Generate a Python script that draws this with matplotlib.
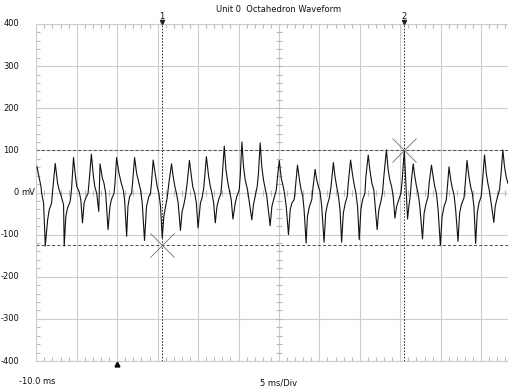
import matplotlib
matplotlib.use('Agg')
import matplotlib.pyplot as plt
import matplotlib.transforms as mtransforms
from matplotlib.ticker import MultipleLocator
import numpy as np

# ---- data ----
time_ms = [
    -9.92, -9.42, -9.34, -9.10, -8.89, -8.60, -8.40, -8.11, -7.99, -7.66,
    -7.37, -7.17, -6.96, -6.63, -6.55, -6.35, -6.14, -5.81, -5.65, -5.40,
    -5.16, -4.99, -4.70, -4.50, -4.29, -4.09, -3.88, -3.60, -3.47, -3.19,
    -2.94, -2.77, -2.53, -2.28, -2.12, -1.83, -1.63, -1.42, -1.13, -0.89,
    -0.72, -0.39, -0.27, -0.07, 0.22, 0.51, 0.75, 0.92, 1.17, 1.33,
    1.54, 1.78, 1.90, 2.15, 2.40, 2.69, 2.89, 3.10, 3.38, 3.63,
    3.92, 4.12, 4.24, 4.45,
    4.75, 4.95, 5.16, 5.36, 5.57, 5.77, 5.98, 6.18, 6.39, 6.72,
    6.92, 7.13, 7.33, 7.54, 7.82, 8.03, 8.24, 8.44, 8.65, 8.93,
    9.18, 9.34, 9.59, 9.79, 10.00, 10.29, 10.49, 10.70, 11.03, 11.31,
    11.52, 11.72, 11.93, 12.13, 12.34, 12.54, 12.83, 12.96, 13.24, 13.45,
    13.69, 13.90, 14.10, 14.31, 14.60, 14.80, 15.09, 15.21, 15.42, 15.62,
    15.83, 16.12, 16.32, 16.65, 16.85, 17.06, 17.31, 17.47, 17.68, 17.88,
    18.09, 18.29, 18.50, 18.91,
    19.13, 19.34, 19.67, 19.83, 20.04, 20.28, 20.49, 20.69, 20.90, 21.18,
    21.39, 21.60, 21.88, 22.01, 22.29, 22.54, 22.74, 22.95, 23.11, 23.36,
    23.52, 23.77, 24.06, 24.18, 24.47, 24.67, 24.88, 25.08, 25.29, 25.58,
    25.78, 25.99, 26.23, 26.44, 26.73, 26.93, 27.14, 27.34, 27.55, 27.75,
    27.96, 28.20, 28.45, 28.57, 28.86, 29.10, 29.31, 29.52, 29.72, 29.93,
    30.13, 30.34, 30.63, 30.75, 31.04, 31.24, 31.49, 31.73, 31.90, 32.14,
    32.35, 32.56, 32.80, 32.97, 33.29, 33.50, 33.71,
    33.93, 34.13, 34.34, 34.55, 34.75, 35.08, 35.24, 35.50, 35.90, 36.06,
    36.23, 36.39, 36.60, 36.80, 37.01, 37.21, 37.42, 37.75, 37.95, 38.16,
    38.44, 38.57, 38.86, 39.06, 39.27, 39.47, 39.68, 39.96, 40.17, 40.42,
    40.70, 40.83, 41.03, 41.24, 41.44, 41.65, 41.85, 42.14, 42.34, 42.55,
    42.88, 43.04, 43.25, 43.49, 43.70, 43.91, 44.11, 44.32, 44.52, 44.73,
    45.01, 45.18, 45.42, 45.63, 45.83, 46.04, 46.24, 46.57, 46.74, 46.98,
    47.27, 47.47, 47.68, 47.89, 48.09, 48.30,
]
volt_mv = [
    61, 14, -2, -25, -127, -65, -41, -25, 2, 69,
    22, 6, -6, -29, -127, -57, -37, -21, 6, 83,
    38, 14, 2, -17, -72, -25, -13, -2, 26, 91,
    38, 14, -2, -45, 68, 34, 22, -2, -88, -33,
    -17, -2, 22, 83, 46, 22, 6, -17, -104, -33,
    -9, -2, 22, 83, 46, 22, 6, -25, -114, -33,
    -9, -2, 22, 77,
    38, 14, -2, -33, -108, -57, -33, -13, 22, 68,
    38, 14, -2, -25, -90, -45, -29, -9, 22, 76,
    38, 14, -2, -25, -84, -25, -13, 10, 85, 38,
    14, -2, -25, -72, -33, -17, -2, 30, 110, 54,
    22, 2, -17, -63, -25, -9, 6, 38, 120, 61,
    30, 6, -21, -65, -29, -9, 14, 46, 118, 61,
    30, 10, -9, -79,
    -33, -17, 6, 38, 76, 34, 18, -2, -33, -100,
    -41, -25, -17, 6, 65, 30, 6, -9, -41, -120,
    -57, -33, -17, 6, 55, 30, 14, 2, -33, -118,
    -49, -29, -13, 14, 71, 38, 14, -6, -41, -118,
    -49, -25, -9, 22, 77, 42, 18, -2, -33, -112,
    -41, -17, -2, 38, 89, 54, 22, 6, -33, -88,
    -41, -25, -2, 38, 101, 54, 30,
    14, -9, -61, -33, -21, -2, 30, 100, -63, -33,
    -9, 30, 68, 38, 14, -2, -33, -110, -49, -29,
    -9, 22, 65, 38, 14, -2, -41, -126, -57, -33,
    -17, 14, 61, 30, 10, -6, -41, -116, -49, -29,
    -13, 22, 76, 38, 14, -2, -33, -121, -49, -25,
    -9, 30, 89, 46, 22, 2, -25, -71, -33, -13,
    6, 46, 101, 61, 38, 22,
]

cursor_times = [5.5, 35.5]
cursor_levels = [-125, 100]
cursor_labels = ['1', '2']
trigger_time = 0.0

y_ticks = [400, 300, 200, 100, 0, -100, -200, -300, -400]
y_tick_labels = ['400', '300', '200', '100', '0', '-100', '-200', '-300', '-400']
y_unit = 'mV'
x_start = -10.0
ms_per_div = 5
n_div = 12
title = 'Unit 0  Octahedron Waveform'
x_start_label = '-10.0 ms'
x_scale_label = '5 ms/Div'

# ---- figure ----
W, H = 508, 390
fig = plt.figure(figsize=(W / 100, H / 100), dpi=100)
fig.patch.set_facecolor('white')
left_px, top_px, bottom_px, div_px = 36.3, 24.0, 361.0, 40.44
ax = fig.add_axes([left_px / W, (H - bottom_px) / H,
                   n_div * div_px / W, (bottom_px - top_px) / H])
x_end = x_start + n_div * ms_per_div
ax.set_xlim(x_start, x_end)
ax.set_ylim(-400, 400)

grid_col = '#cccccc'
for s in ax.spines.values():
    s.set_color(grid_col)
    s.set_linewidth(0.8)
ax.set_xticks(np.arange(x_start, x_end + 0.1, ms_per_div))
ax.set_yticks(y_ticks)
ax.xaxis.set_minor_locator(MultipleLocator(1))
ax.yaxis.set_minor_locator(MultipleLocator(20))
ax.grid(True, which='major', color=grid_col, lw=0.8)
ax.tick_params(which='both', direction='in', top=True, bottom=True,
               left=True, right=True, labelbottom=False, labelleft=False,
               color='#b8b8b8', width=0.8)
ax.tick_params(which='minor', length=3)
ax.tick_params(which='major', length=0)
ax.set_axisbelow(True)

# centre cross-hair ticks
center_t = x_start + n_div / 2 * ms_per_div
minor_t = np.arange(x_start, x_end + 0.01, 1)
minor_v = np.arange(-400, 401, 20)
ax.plot(minor_t, np.zeros_like(minor_t), ls='none', marker='|', ms=5,
        mew=0.8, color='#b8b8b8', zorder=1)
ax.plot(np.full_like(minor_v, center_t, dtype=float), minor_v, ls='none',
        marker='_', ms=5, mew=0.8, color='#b8b8b8', zorder=1)

# cursors
for lv in cursor_levels:
    ax.axhline(lv, color='#555555', lw=0.75, ls=(0, (3, 2)), zorder=2)
for ct in cursor_times:
    ax.axvline(ct, color='#333333', lw=0.75, ls=(0, (1.5, 1.5)), zorder=2)

# waveform
ax.plot(time_ms, volt_mv, color='#111111', lw=0.8, zorder=3)

# cursor crosses
ax.plot(cursor_times, cursor_levels, ls='none', marker='x', ms=17, mew=0.6,
        color='#707070', zorder=4)

font = dict(family='DejaVu Sans', size=6, color='#111111')

# cursor labels + arrows above plot
for ct, lab in zip(cursor_times, cursor_labels):
    tr_arrow = mtransforms.offset_copy(ax.transData, fig=fig, x=0, y=2.0, units='dots')
    ax.plot([ct], [400], marker='v', ms=3, color='#222222', clip_on=False,
            transform=tr_arrow, zorder=5)
    tr_txt = mtransforms.offset_copy(ax.transData, fig=fig, x=0, y=7.5, units='dots')
    ax.text(ct, 400, lab, transform=tr_txt, ha='center', va='center', **font)

# trigger marker below plot
tr_trig = mtransforms.offset_copy(ax.transData, fig=fig, x=0, y=-2.5, units='dots')
ax.plot([trigger_time], [-400], marker='^', ms=3.5, color='black',
        clip_on=False, transform=tr_trig)

# y labels
ylab_tr = mtransforms.blended_transform_factory(fig.transFigure, ax.transData)
for v, lab in zip(y_ticks, y_tick_labels):
    fig.text(19 / W, v, lab, transform=ylab_tr, ha='right', va='center', **font)
    if v == 0:
        fig.text(21 / W, v, y_unit, transform=ylab_tr, ha='left', va='center', **font)

# title and bottom labels
fig.text((left_px + n_div / 2 * div_px) / W, 1 - 10 / H, title,
         ha='center', va='center', **font)
fig.text(37 / W, 1 - 381 / H, x_start_label, ha='center', va='center', **font)
fig.text((left_px + n_div / 2 * div_px) / W, 1 - 383 / H, x_scale_label,
         ha='center', va='center', **font)

fig.savefig('out.png', dpi=100, facecolor='white')
